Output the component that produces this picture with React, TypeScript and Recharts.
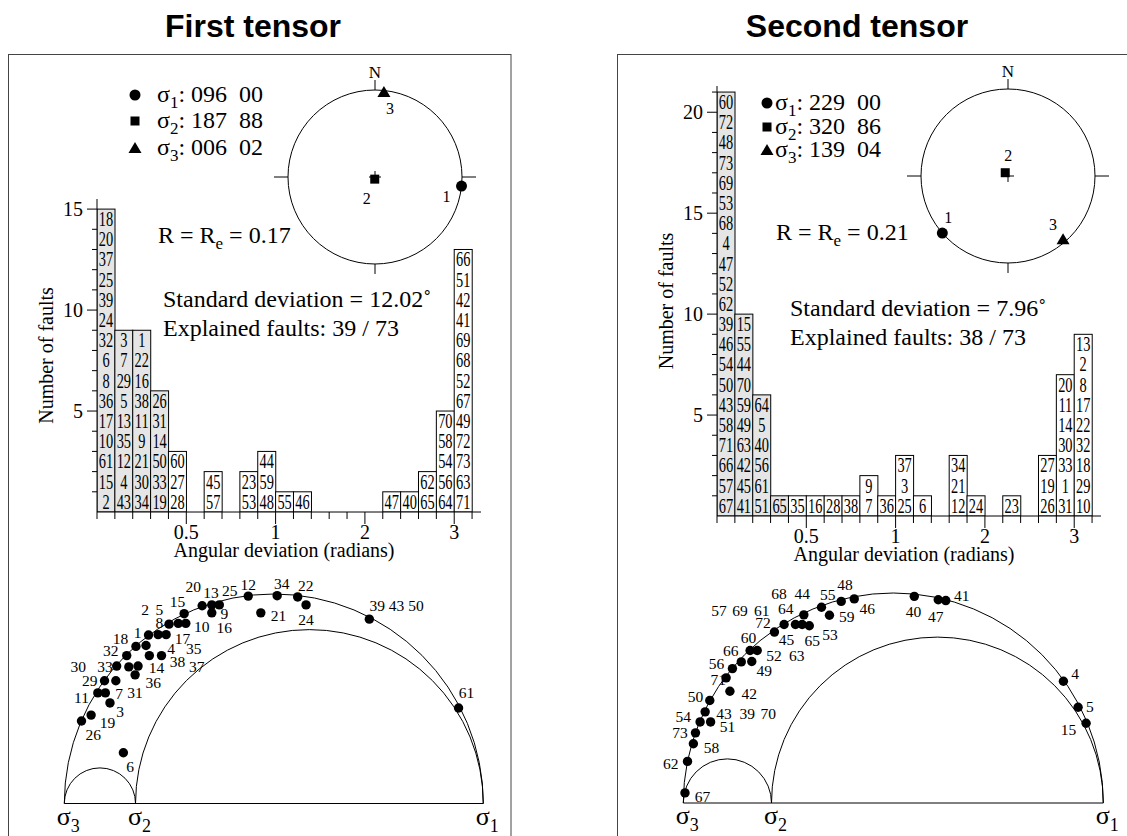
import { BarChart, Bar, XAxis, YAxis, ScatterChart, Scatter, ReferenceArea, ReferenceDot } from "recharts"

const SERIF = "'Liberation Serif', 'Times New Roman', Times, serif"
const SANS = "'Liberation Sans', Arial, Helvetica, sans-serif"

// fault numbers in each angular-deviation class, top of the bar first
const t1Bins: number[][] = [
  [18, 20, 37, 25, 39, 24, 32, 6, 8, 36, 17, 10, 61, 15, 2],
  [3, 7, 29, 5, 13, 35, 12, 4, 43],
  [1, 22, 16, 38, 11, 9, 21, 30, 34],
  [26, 31, 14, 50, 33, 19],
  [60, 27, 28],
  [],
  [45, 57],
  [],
  [23, 53],
  [44, 59, 48],
  [55],
  [46],
  [],
  [],
  [],
  [],
  [47],
  [40],
  [62, 65],
  [70, 58, 54, 56, 64],
  [66, 51, 42, 41, 69, 68, 52, 67, 49, 72, 73, 63, 71],
]
const t2Bins: number[][] = [
  [60, 72, 48, 73, 69, 53, 68, 4, 47, 52, 62, 39, 46, 54, 50, 43, 58, 71, 66, 57, 67],
  [15, 55, 44, 70, 59, 49, 63, 42, 45, 41],
  [64, 5, 40, 56, 61, 51],
  [65],
  [35],
  [16],
  [28],
  [38],
  [9, 7],
  [36],
  [37, 3, 25],
  [6],
  [],
  [34, 21, 12],
  [24],
  [],
  [23],
  [],
  [27, 19, 26],
  [20, 11, 14, 30, 33, 1, 31],
  [13, 2, 8, 17, 22, 32, 18, 29, 10],
]
// classes holding the explained faults are shaded
const t1ShadedBins = 4
const t2ShadedBins = 4

// class boundaries (0.1 rad up to 1, then 0.2 rad)
const binEdges = [0, 1, 2, 3, 4, 5, 6, 7, 8, 9, 10, 11, 12, 13, 14, 15, 16, 17, 18, 19, 20, 21]
const labelledEdges = [5, 10, 15, 20]
const labelledEdgeText = ["0.5", "1", "2", "3"]

const t1CountTicks = [1, 2, 3, 4, 5, 6, 7, 8, 9, 10, 11, 12, 13, 14, 15]
const t2CountTicks = [1, 2, 3, 4, 5, 6, 7, 8, 9, 10, 11, 12, 13, 14, 15, 16, 17, 18, 19, 20, 21]

// principal stress axes: trend / plunge in degrees
const t1Axes = [
  { id: "1", trend: 96, plunge: 0 },
  { id: "2", trend: 187, plunge: 88 },
  { id: "3", trend: 6, plunge: 2 },
]
const t2Axes = [
  { id: "1", trend: 229, plunge: 0 },
  { id: "2", trend: 320, plunge: 86 },
  { id: "3", trend: 139, plunge: 4 },
]

const t1Ratio = 0.17
const t2Ratio = 0.21
const t1StdDev = "12.02"
const t2StdDev = "7.96"
const t1Explained = 39
const t2Explained = 38
const totalFaults = 73

// Mohr plane, normalised: normal stress (sigma3 = 0, sigma1 = 1) and shear stress
const t1MohrDots: [number, number][] = [
  [0.041, 0.197], [0.064, 0.211], [0.08, 0.264], [0.098, 0.264], [0.109, 0.24], [0.096, 0.293],
  [0.123, 0.293], [0.125, 0.328], [0.154, 0.326], [0.176, 0.328], [0.169, 0.307], [0.149, 0.353],
  [0.171, 0.375], [0.195, 0.377], [0.203, 0.353], [0.232, 0.353], [0.201, 0.402], [0.224, 0.403],
  [0.243, 0.403], [0.25, 0.428], [0.272, 0.43], [0.29, 0.43], [0.286, 0.453], [0.329, 0.472],
  [0.352, 0.474], [0.37, 0.474], [0.352, 0.455], [0.439, 0.495], [0.508, 0.496], [0.557, 0.493],
  [0.577, 0.474], [0.469, 0.455], [0.728, 0.44], [0.941, 0.228], [0.141, 0.121],
]
const t1MohrLabels: [number, number, string][] = [
  [0.308, 0.519, "20"], [0.35, 0.503, "13"], [0.395, 0.508, "25"], [0.439, 0.523, "12"],
  [0.519, 0.525, "34"], [0.576, 0.521, "22"], [0.793, 0.473, "39 43 50"], [0.27, 0.481, "15"],
  [0.193, 0.464, "2"], [0.227, 0.464, "5"], [0.382, 0.453, "9"], [0.511, 0.448, "21"],
  [0.577, 0.438, "24"], [0.328, 0.422, "10"], [0.382, 0.42, "16"], [0.227, 0.432, "8"],
  [0.282, 0.394, "17"], [0.175, 0.409, "1"], [0.134, 0.394, "18"], [0.255, 0.37, "4"],
  [0.309, 0.37, "35"], [0.111, 0.366, "32"], [0.27, 0.338, "38"], [0.316, 0.328, "37"],
  [0.033, 0.328, "30"], [0.097, 0.328, "33"], [0.22, 0.324, "14"], [0.061, 0.294, "29"],
  [0.212, 0.288, "36"], [0.041, 0.253, "11"], [0.131, 0.263, "7"], [0.169, 0.264, "31"],
  [0.133, 0.219, "3"], [0.103, 0.193, "19"], [0.069, 0.165, "26"], [0.96, 0.264, "61"],
  [0.157, 0.088, "6"],
]
const t2MohrDots: [number, number][] = [
  [0.004, 0.024], [0.01, 0.099], [0.024, 0.141], [0.029, 0.167], [0.04, 0.193], [0.065, 0.193],
  [0.052, 0.217], [0.063, 0.244], [0.111, 0.266], [0.102, 0.298], [0.117, 0.32], [0.138, 0.336],
  [0.163, 0.337], [0.159, 0.363], [0.176, 0.363], [0.217, 0.407], [0.24, 0.425], [0.267, 0.425],
  [0.283, 0.425], [0.3, 0.422], [0.287, 0.448], [0.329, 0.466], [0.348, 0.447], [0.376, 0.48],
  [0.407, 0.486], [0.55, 0.492], [0.607, 0.484], [0.625, 0.482], [0.905, 0.29], [0.94, 0.228],
  [0.959, 0.19],
]
const t2MohrLabels: [number, number, string][] = [
  [0.228, 0.498, "68"], [0.283, 0.498, "44"], [0.344, 0.496, "55"], [0.385, 0.52, "48"],
  [0.085, 0.459, "57"], [0.135, 0.459, "69"], [0.187, 0.459, "61"], [0.244, 0.462, "64"],
  [0.19, 0.429, "72"], [0.389, 0.444, "59"], [0.438, 0.464, "46"], [0.548, 0.456, "40"],
  [0.601, 0.444, "47"], [0.663, 0.494, "41"], [0.246, 0.389, "45"], [0.307, 0.387, "65"],
  [0.349, 0.402, "53"], [0.155, 0.393, "60"], [0.113, 0.363, "66"], [0.216, 0.351, "52"],
  [0.27, 0.351, "63"], [0.079, 0.332, "56"], [0.193, 0.316, "49"], [0.083, 0.294, "71"],
  [0.157, 0.26, "42"], [0.029, 0.254, "50"], [0.097, 0.214, "43"], [0.152, 0.214, "39"],
  [0.202, 0.214, "70"], [0.0, 0.206, "54"], [0.105, 0.183, "51"], [-0.008, 0.168, "73"],
  [0.067, 0.131, "58"], [-0.03, 0.095, "62"], [0.046, 0.016, "67"], [0.933, 0.308, "4"],
  [0.968, 0.23, "5"], [0.917, 0.176, "15"],
]

const sigmaNames = ["3", "2", "1"]

// lower hemisphere equal-area projection
function project(trend: number, plunge: number) {
  const r = Math.SQRT2 * Math.sin(((90 - plunge) / 2) * (Math.PI / 180))
  const a = (trend * Math.PI) / 180
  return { x: r * Math.sin(a), y: r * Math.cos(a) }
}

function Glyph({ kind, cx, cy }: { kind: number; cx: number; cy: number }) {
  if (kind === 0) return <circle cx={cx} cy={cy} r={5.5} fill="#000" />
  if (kind === 1) return <rect x={cx - 4.5} y={cy - 4.5} width={9} height={9} fill="#000" />
  return <path d={`M${cx},${cy - 6} L${cx + 6.5},${cy + 5} L${cx - 6.5},${cy + 5} Z`} fill="#000" />
}

// ---------- histogram pieces
function BinStack(props: any) {
  const { x, y, width, height, payload } = props
  const faults: number[] = payload?.faults ?? []
  if (!faults.length || !(height > 0)) return <g />
  const h = height / faults.length
  return (
    <g>
      <rect x={x} y={y} width={width} height={height} fill={payload.shaded ? "#e5e5e5" : "#fff"} stroke="#000" strokeWidth={1} />
      {faults.map((f, k) => (
        <text
          key={k}
          transform={`translate(${x + width / 2},${y + h * (k + 0.5)}) scale(0.72,1)`}
          textAnchor="middle"
          dominantBaseline="central"
          fontFamily={SERIF}
          fontSize={20}
          fill="#000"
        >
          {f}
        </text>
      ))}
    </g>
  )
}

function EdgeTick(props: any) {
  const { x, y, payload } = props
  const k = labelledEdges.indexOf(payload.value)
  return (
    <g>
      <line x1={x} x2={x} y1={y} y2={y + (k >= 0 ? 12 : 7)} stroke="#000" />
      {k >= 0 && (
        <text x={x} y={y + 27} textAnchor="middle" fontFamily={SERIF} fontSize={20} fill="#000">
          {labelledEdgeText[k]}
        </text>
      )}
    </g>
  )
}

function CountTick(props: any) {
  const { x, y, payload } = props
  const major = payload.value % 5 === 0
  return (
    <g>
      <line x1={x - (major ? 10 : 5)} x2={x} y1={y} y2={y} stroke="#000" />
      {major && (
        <text x={x - 14} y={y} dy="0.34em" textAnchor="end" fontFamily={SERIF} fontSize={20} fill="#000">
          {payload.value}
        </text>
      )}
    </g>
  )
}

function XTitle(props: any) {
  const vb = props.viewBox || { x: 0, y: 0, width: 0 }
  return (
    <text x={vb.x + vb.width / 2 - 5} y={vb.y + 45} textAnchor="middle" fontFamily={SERIF} fontSize={20} fill="#000">
      Angular deviation (radians)
    </text>
  )
}

function YTitle(props: any) {
  const vb = props.viewBox || { x: 0, y: 0, height: 0 }
  const cx = vb.x + 33
  const cy = vb.y + vb.height / 2 + (props.shift || 0)
  return (
    <text x={cx} y={cy} transform={`rotate(-90 ${cx} ${cy})`} textAnchor="middle" fontFamily={SERIF} fontSize={20} fill="#000">
      Number of faults
    </text>
  )
}

function Histogram({ bins, shaded, countTicks, yMax, plotHeight, left, top, titleShift }: {
  bins: number[][]; shaded: number; countTicks: number[]; yMax: number; plotHeight: number; left: number; top: number; titleShift: number
}) {
  const rows = bins.map((faults, i) => ({ mid: i + 0.5, count: faults.length, faults, shaded: i < shaded }))
  return (
    <div style={{ position: "absolute", left, top }}>
      <BarChart width={476} height={plotHeight + 70} data={rows} margin={{ top: 15, right: 15, bottom: 5, left: 0 }} barCategoryGap={0} barGap={0}>
        <XAxis
          type="number"
          dataKey="mid"
          domain={[0, 21.5]}
          ticks={binEdges}
          interval={0}
          allowDataOverflow
          tickLine={false}
          tickSize={0}
          tickMargin={0}
          axisLine={{ stroke: "#000" }}
          height={50}
          tick={<EdgeTick />}
          label={<XTitle />}
        />
        <YAxis
          type="number"
          domain={[0, yMax]}
          ticks={countTicks}
          interval={0}
          allowDataOverflow
          width={77}
          tickLine={false}
          tickSize={0}
          tickMargin={0}
          axisLine={{ stroke: "#000" }}
          tick={<CountTick />}
          label={<YTitle shift={titleShift} />}
        />
        <Bar dataKey="count" isAnimationActive={false} shape={(p: any) => <BinStack {...p} />} />
      </BarChart>
    </div>
  )
}

// ---------- stereonet
function NetFrame(props: any) {
  const { x, y, width, height } = props
  const cx = x + width / 2
  const cy = y + height / 2
  const r = width / 2
  return (
    <g stroke="#000" fill="none" strokeWidth={1}>
      <circle cx={cx} cy={cy} r={r} />
      <line x1={cx} x2={cx} y1={cy - r} y2={cy - r - 10} />
      <line x1={cx} x2={cx} y1={cy + r} y2={cy + r + 10} />
      <line x1={cx - r} x2={cx - r - 14} y1={cy} y2={cy} />
      <line x1={cx + r} x2={cx + r + 14} y1={cy} y2={cy} />
      <line x1={cx - 6} x2={cx + 6} y1={cy} y2={cy} />
      <line x1={cx} x2={cx} y1={cy - 6} y2={cy + 6} />
      <text x={cx} y={cy - r - 12} textAnchor="middle" fontFamily={SERIF} fontSize={17} fill="#000" stroke="none">
        N
      </text>
    </g>
  )
}

function Stereonet({ axes, left, top, labelOffsets }: {
  axes: { id: string; trend: number; plunge: number }[]; left: number; top: number; labelOffsets: [number, number][]
}) {
  const pts = axes.map((a, i) => ({ ...project(a.trend, a.plunge), id: a.id, kind: i }))
  return (
    <div style={{ position: "absolute", left, top }}>
      <ScatterChart width={224} height={234} margin={{ top: 40, right: 25, bottom: 20, left: 25 }}>
        <XAxis type="number" dataKey="x" domain={[-1, 1]} hide />
        <YAxis type="number" dataKey="y" domain={[-1, 1]} hide />
        <ReferenceArea x1={-1} x2={1} y1={-1} y2={1} ifOverflow="visible" shape={(p: any) => <NetFrame {...p} />} />
        <Scatter
          data={pts}
          isAnimationActive={false}
          shape={(p: any) => {
            const k = p.payload.kind
            const [dx, dy] = labelOffsets[k]
            return (
              <g>
                <Glyph kind={k} cx={p.cx} cy={p.cy} />
                <text x={p.cx + dx} y={p.cy + dy} textAnchor="middle" dominantBaseline="central" fontFamily={SERIF} fontSize={16} fill="#000">
                  {p.payload.id}
                </text>
              </g>
            )
          }}
        />
      </ScatterChart>
    </div>
  )
}

// ---------- Mohr diagram
function Arc(props: any) {
  const { x, y, width, height } = props
  return <path d={`M${x},${y + height} A${width / 2},${height} 0 0 1 ${x + width},${y + height}`} fill="none" stroke="#000" strokeWidth={1} />
}

function SigmaTick(props: any) {
  const { x, y, index } = props
  return (
    <text x={x + 4} y={y + 21} textAnchor="middle" fontFamily={SERIF} fontSize={26} fill="#000">
      σ<tspan dy={7} fontSize={18}>{sigmaNames[index]}</tspan>
    </text>
  )
}

function Mohr({ ratio, dots, labels, left, top, width, ml, plotW }: {
  ratio: number; dots: [number, number][]; labels: [number, number, string][]; left: number; top: number; width: number; ml: number; plotW: number
}) {
  const dotRows = dots.map(([s, t]) => ({ s, t }))
  const mt = 30
  return (
    <div style={{ position: "absolute", left, top }}>
      <ScatterChart width={width} height={mt + plotW / 2 + 33} margin={{ top: mt, right: width - ml - plotW, bottom: 3, left: ml }}>
        <XAxis
          type="number"
          dataKey="s"
          domain={[0, 1]}
          ticks={[0, ratio, 1]}
          interval={0}
          tickLine={false}
          tickSize={0}
          tickMargin={0}
          height={30}
          axisLine={{ stroke: "#000" }}
          tick={<SigmaTick />}
        />
        <YAxis type="number" dataKey="t" domain={[0, 0.5]} hide />
        <ReferenceArea x1={0} x2={1} y1={0} y2={0.5} ifOverflow="visible" shape={(p: any) => <Arc {...p} />} />
        <ReferenceArea x1={ratio} x2={1} y1={0} y2={(1 - ratio) / 2} ifOverflow="visible" shape={(p: any) => <Arc {...p} />} />
        <ReferenceArea x1={0} x2={ratio} y1={0} y2={ratio / 2} ifOverflow="visible" shape={(p: any) => <Arc {...p} />} />
        <Scatter data={dotRows} isAnimationActive={false} shape={(p: any) => <circle cx={p.cx} cy={p.cy} r={4.7} fill="#000" />} />
        {labels.map(([s, t, text], i) => (
          <ReferenceDot
            key={i}
            x={s}
            y={t}
            ifOverflow="visible"
            shape={(p: any) => (
              <text x={p.cx} y={p.cy} textAnchor="middle" dominantBaseline="central" fontFamily={SERIF} fontSize={15.5} fill="#000" style={{ whiteSpace: "pre" }}>
                {text}
              </text>
            )}
          />
        ))}
      </ScatterChart>
    </div>
  )
}

// ---------- text blocks
const pad = (v: number, n: number) => String(v).padStart(n, "0")

function LegendBlock({ axes, markerX, textX, baselines }: {
  axes: { id: string; trend: number; plunge: number }[]; markerX: number; textX: number; baselines: number[]
}) {
  return (
    <g>
      {axes.map((a, i) => (
        <g key={a.id}>
          <Glyph kind={i} cx={markerX} cy={baselines[i] - 7} />
          <text x={textX} y={baselines[i]} fontFamily={SERIF} fontSize={24} fill="#000" style={{ whiteSpace: "pre" }}>
            σ<tspan dy={6} fontSize={17}>{a.id}</tspan>
            <tspan dy={-6}>{`: ${pad(a.trend, 3)}  ${pad(a.plunge, 2)}`}</tspan>
          </text>
        </g>
      ))}
    </g>
  )
}

function StatsBlock({ ratio, rx, ry, sx, sy, std, explained }: {
  ratio: number; rx: number; ry: number; sx: number; sy: number; std: string; explained: number
}) {
  return (
    <g fontFamily={SERIF} fontSize={24} fill="#000" style={{ whiteSpace: "pre" }}>
      <text x={rx} y={ry}>
        R = R<tspan dy={6} fontSize={17}>e</tspan>
        <tspan dy={-6}>{` = ${ratio.toFixed(2)}`}</tspan>
      </text>
      <text x={sx} y={sy}>{`Standard deviation = ${std}˚`}</text>
      <text x={sx} y={sy + 29}>{`Explained faults: ${explained} / ${totalFaults}`}</text>
    </g>
  )
}

export default function App() {
  return (
    <div style={{ position: "relative", width: 1127, height: 836, overflow: "hidden", background: "#fff" }}>
      <style>{"body{margin:0}"}</style>

      <Histogram bins={t1Bins} shaded={t1ShadedBins} countTicks={t1CountTicks} yMax={15.5} plotHeight={313} left={20} top={184} titleShift={0} />
      <Histogram bins={t2Bins} shaded={t2ShadedBins} countTicks={t2CountTicks} yMax={21.3} plotHeight={430} left={640} top={71} titleShift={0} />

      <Stereonet axes={t1Axes} left={263} top={50} labelOffsets={[[-15, 10], [-8, 19], [6, 17]]} />
      <Stereonet axes={t2Axes} left={896} top={49} labelOffsets={[[6, -16], [3, -17], [-10, -15]]} />

      <Mohr ratio={t1Ratio} dots={t1MohrDots} labels={t1MohrLabels} left={0} top={563.5} width={513} ml={64.3} plotW={419} />
      <Mohr ratio={t2Ratio} dots={t2MohrDots} labels={t2MohrLabels} left={600} top={563.3} width={527} ml={83.3} plotW={420} />

      <svg width={1127} height={836} style={{ position: "absolute", left: 0, top: 0, pointerEvents: "none" }}>
        <text x={253} y={37} textAnchor="middle" fontFamily={SANS} fontWeight="bold" fontSize={32} fill="#000">First tensor</text>
        <text x={857} y={37} textAnchor="middle" fontFamily={SANS} fontWeight="bold" fontSize={32} fill="#000">Second tensor</text>
        <rect x={8.5} y={54.5} width={502.5} height={900} fill="none" stroke="#444" />
        <rect x={617.5} y={54.5} width={600} height={900} fill="none" stroke="#444" />

        <LegendBlock axes={t1Axes} markerX={135} textX={157} baselines={[102, 128, 155]} />
        <LegendBlock axes={t2Axes} markerX={767} textX={775} baselines={[110, 134, 157]} />

        <StatsBlock ratio={t1Ratio} rx={158} ry={243} sx={163} sy={307} std={t1StdDev} explained={t1Explained} />
        <StatsBlock ratio={t2Ratio} rx={776} ry={240} sx={790} sy={316} std={t2StdDev} explained={t2Explained} />
      </svg>
    </div>
  )
}
